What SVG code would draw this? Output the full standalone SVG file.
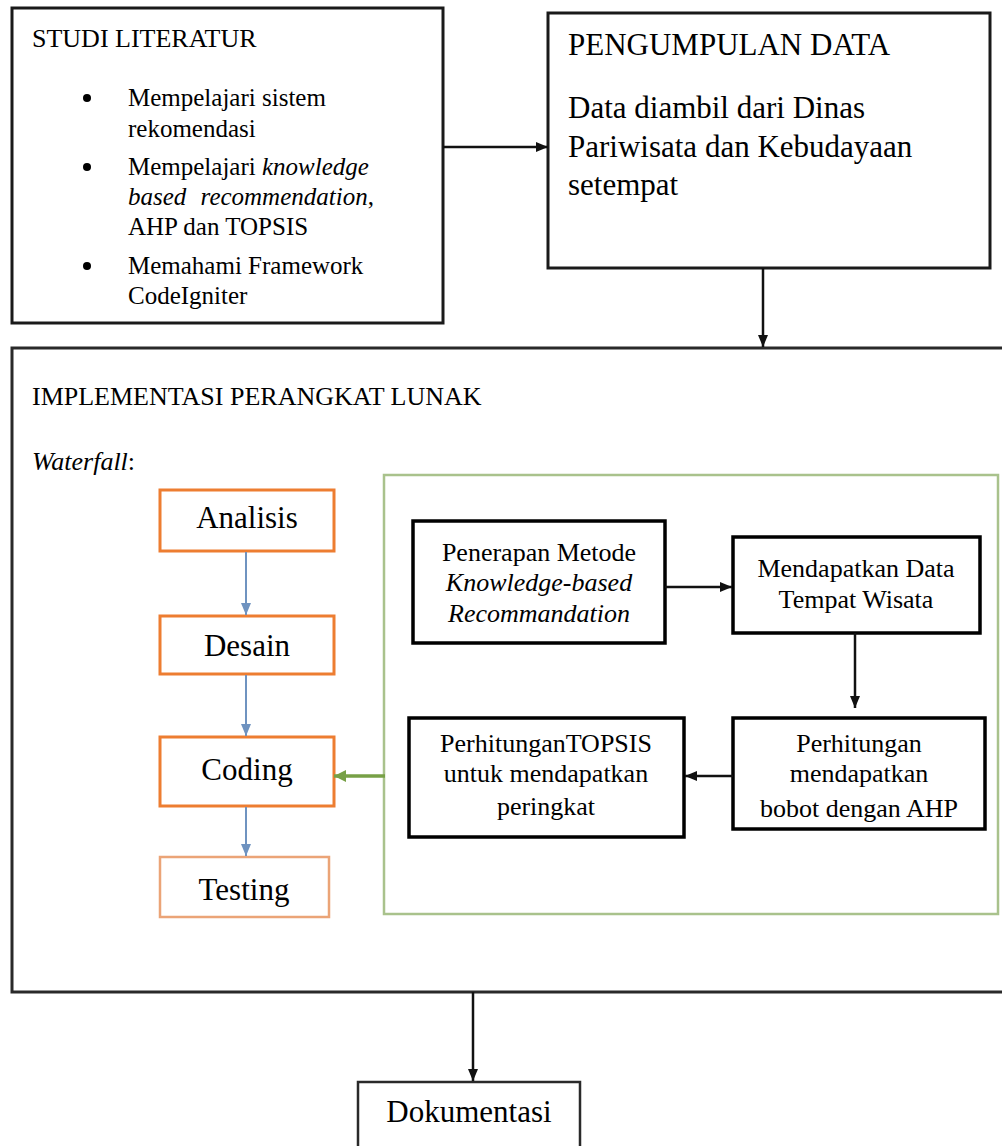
<svg xmlns="http://www.w3.org/2000/svg" width="1002" height="1146" viewBox="0 0 1002 1146">
<defs>
<style>
text{font-family:"Liberation Serif","Times New Roman",serif;fill:#000}
.box{fill:#fff;stroke:#1a1a1a;stroke-width:3}
.blk{fill:#fff;stroke:#000;stroke-width:3.5}
.org{fill:#fff;stroke:#ed7d31;stroke-width:3}
.c{fill:none;stroke:#111;stroke-width:2.5}
.cb{fill:none;stroke:#6f93c0;stroke-width:2}
.cg{fill:none;stroke:#77a046;stroke-width:3.5}
.it{font-style:italic}
</style>
<marker id="ah" markerUnits="userSpaceOnUse" markerWidth="12" markerHeight="12" refX="12" refY="6" orient="auto"><path d="M0,1 L12,6 L0,11 z" fill="#111"/></marker>
<marker id="ahb" markerUnits="userSpaceOnUse" markerWidth="12" markerHeight="12" refX="12" refY="6" orient="auto"><path d="M0,1 L12,6 L0,11 z" fill="#6f93c0"/></marker>
<marker id="ahg" markerUnits="userSpaceOnUse" markerWidth="12" markerHeight="14" refX="12" refY="7" orient="auto"><path d="M0,1 L12,7 L0,13 z" fill="#77a046"/></marker>
</defs>
<rect width="1002" height="1146" fill="#fff"/>

<g id="studi-literatur">
<rect class="box" x="12" y="8" width="431" height="315"/>
<text x="32" y="47" font-size="26">STUDI LITERATUR</text>
<circle cx="87" cy="98" r="4"/>
<text x="128" y="106" font-size="25">Mempelajari sistem</text>
<text x="128" y="137" font-size="25">rekomendasi</text>
<circle cx="87" cy="167" r="4"/>
<text x="128" y="175" font-size="25">Mempelajari <tspan class="it">knowledge</tspan></text>
<text x="128" y="205" font-size="25" word-spacing="8"><tspan class="it">based recommendation</tspan>,</text>
<text x="128" y="235" font-size="25">AHP dan TOPSIS</text>
<circle cx="87" cy="266" r="4"/>
<text x="128" y="274" font-size="25">Memahami Framework</text>
<text x="128" y="304" font-size="25">CodeIgniter</text>
</g>

<g id="pengumpulan-data">
<rect class="box" x="548" y="13" width="442" height="255"/>
<text x="568" y="55" font-size="31">PENGUMPULAN DATA</text>
<text x="568" y="118" font-size="31">Data diambil dari Dinas</text>
<text x="568" y="157" font-size="31">Pariwisata dan Kebudayaan</text>
<text x="568" y="195" font-size="31">setempat</text>
</g>

<g id="implementasi">
<path d="M1010,348 H12 V992 H1010" fill="#fff" stroke="#2a2a2a" stroke-width="3"/>
<text x="32" y="405" font-size="26">IMPLEMENTASI PERANGKAT LUNAK</text>
<text x="32" y="470" font-size="26"><tspan class="it">Waterfall</tspan>:</text>
</g>

<g id="metode-group">
<rect x="384" y="475" width="614" height="439" fill="#fff" stroke="#a9c28c" stroke-width="2.5"/>
</g>

<g id="analisis">
<rect class="org" x="160" y="490" width="174" height="61"/>
<text x="247" y="528" font-size="31" text-anchor="middle">Analisis</text>
</g>
<g id="desain">
<rect class="org" x="160" y="616" width="174" height="58"/>
<text x="247" y="656" font-size="31" text-anchor="middle">Desain</text>
</g>
<g id="coding">
<rect class="org" x="160" y="737" width="174" height="69"/>
<text x="247" y="780" font-size="31" text-anchor="middle">Coding</text>
</g>
<g id="testing">
<rect x="160" y="857" width="169" height="60" fill="#fff" stroke="#eba477" stroke-width="2.5"/>
<text x="244" y="900" font-size="31" text-anchor="middle">Testing</text>
</g>

<g id="penerapan">
<rect class="blk" x="413" y="521" width="252" height="122"/>
<text x="539" y="561" font-size="26" text-anchor="middle">Penerapan Metode</text>
<text x="539" y="591" font-size="26" text-anchor="middle" class="it">Knowledge-based</text>
<text x="539" y="622" font-size="26" text-anchor="middle" class="it">Recommandation</text>
</g>
<g id="mendapatkan-data">
<rect class="blk" x="733" y="537" width="247" height="96"/>
<text x="856" y="577" font-size="26" text-anchor="middle">Mendapatkan Data</text>
<text x="856" y="608" font-size="26" text-anchor="middle">Tempat Wisata</text>
</g>
<g id="perhitungan-ahp">
<rect class="blk" x="733" y="718" width="252" height="111"/>
<text x="859" y="752" font-size="26" text-anchor="middle">Perhitungan</text>
<text x="859" y="782" font-size="26" text-anchor="middle">mendapatkan</text>
<text x="859" y="817" font-size="26" text-anchor="middle">bobot dengan AHP</text>
</g>
<g id="perhitungan-topsis">
<rect class="blk" x="409" y="718" width="275" height="119"/>
<text x="546" y="752" font-size="26" text-anchor="middle">PerhitunganTOPSIS</text>
<text x="546" y="782" font-size="26" text-anchor="middle">untuk mendapatkan</text>
<text x="546" y="815" font-size="26" text-anchor="middle">peringkat</text>
</g>

<g id="dokumentasi">
<path d="M358,1160 V1082 H580 V1160" fill="#fff" stroke="#2a2a2a" stroke-width="2.5"/>
<text x="469" y="1122" font-size="31" text-anchor="middle">Dokumentasi</text>
</g>

<g id="connectors">
<path class="c" d="M443,147 H548" marker-end="url(#ah)"/>
<path class="c" d="M763,268 V347" marker-end="url(#ah)"/>
<path class="cb" d="M246,552 V615" marker-end="url(#ahb)"/>
<path class="cb" d="M246,675 V736" marker-end="url(#ahb)"/>
<path class="cb" d="M246,807 V856" marker-end="url(#ahb)"/>
<path class="cg" d="M385,776 H334" marker-end="url(#ahg)"/>
<path class="c" d="M665,587 H732" marker-end="url(#ah)"/>
<path class="c" d="M855,633 V708" marker-end="url(#ah)"/>
<path class="c" d="M733,776 H685" marker-end="url(#ah)"/>
<path class="c" d="M473,992 V1081" marker-end="url(#ah)"/>
</g>
</svg>
